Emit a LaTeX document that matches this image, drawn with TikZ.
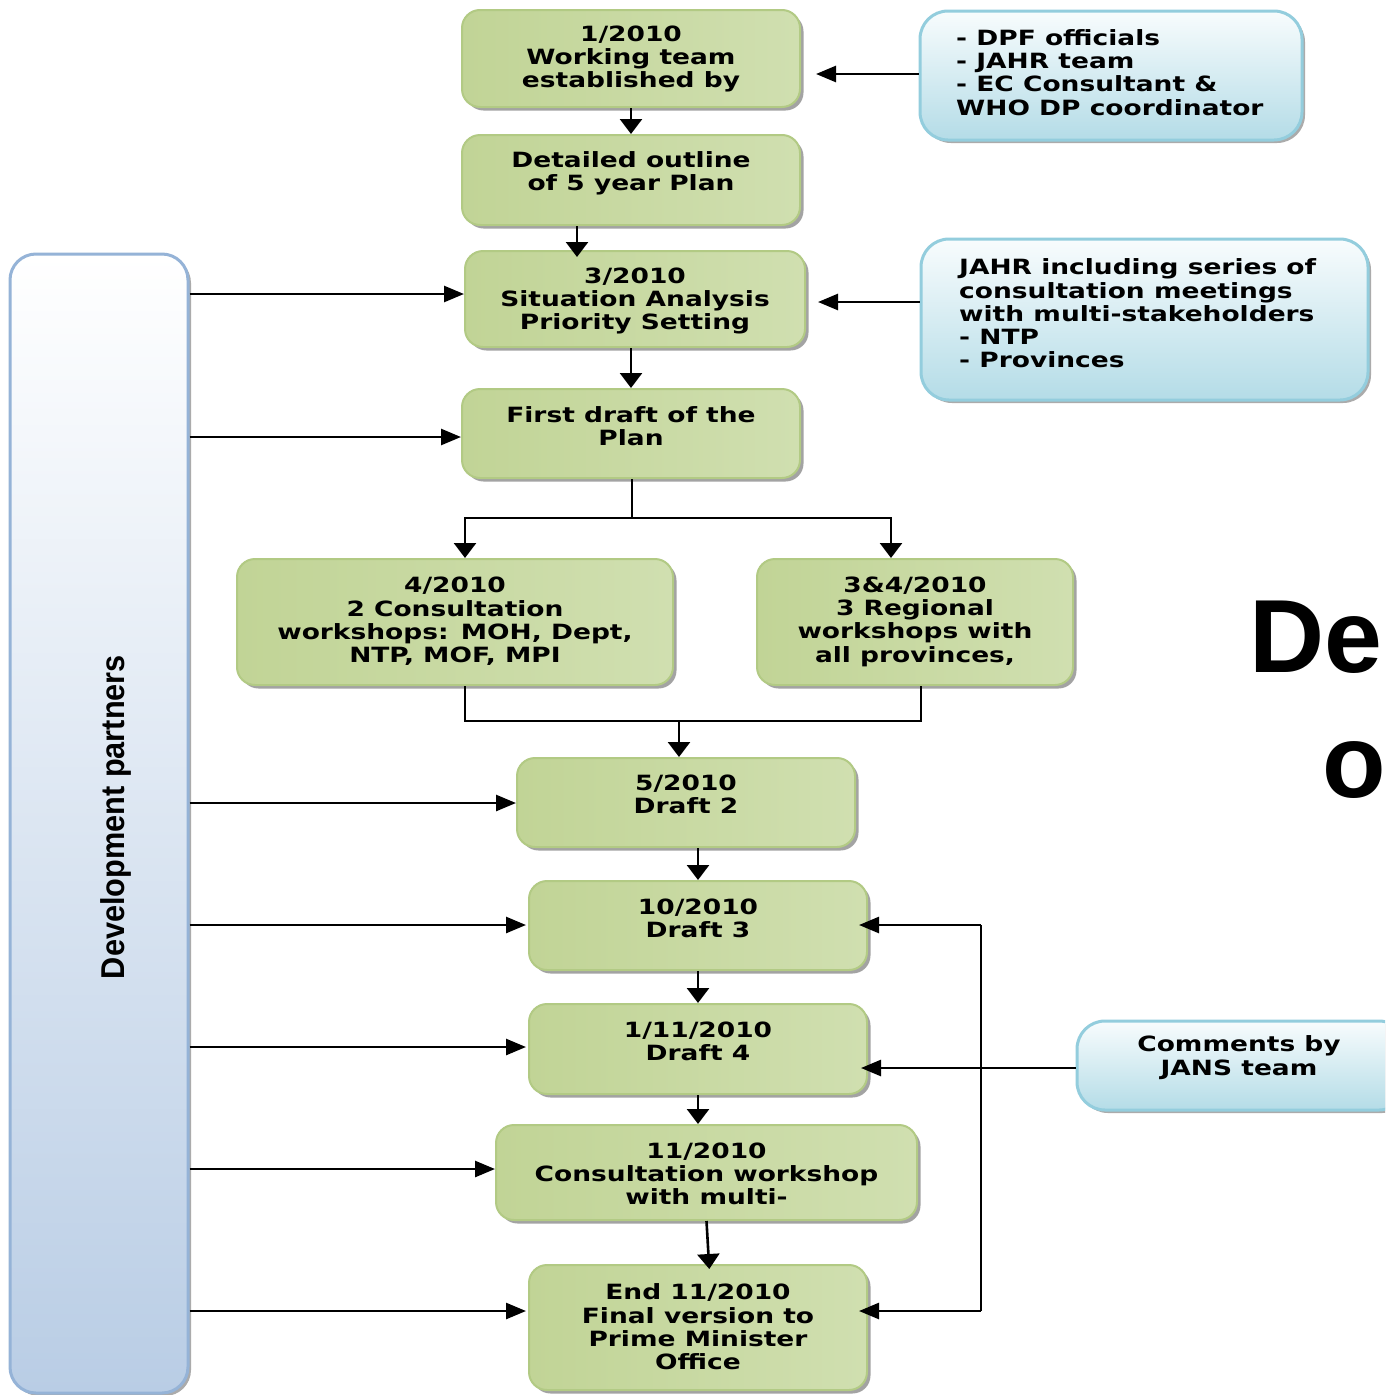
\documentclass[tikz,border=0pt]{standalone}
\usepackage{fontspec}
\usetikzlibrary{arrows.meta,shadows}
\newfontfamily\vbf{DejaVu Sans Bold}[FakeStretch=1.26]
\newfontfamily\abf{Liberation Sans Bold}
\definecolor{gD}{RGB}{193,212,150}
\definecolor{gM}{RGB}{234,241,220}
\definecolor{gR}{RGB}{208,223,176}
\definecolor{gB}{RGB}{178,202,132}
\definecolor{bT}{RGB}{248,252,253}
\definecolor{bB}{RGB}{180,220,231}
\definecolor{bE}{RGB}{147,205,221}
\definecolor{lT}{RGB}{255,255,255}
\definecolor{lB}{RGB}{185,205,229}
\definecolor{lE}{RGB}{149,179,215}
\tikzset{
  gbox/.style={draw=gB, line width=2pt, rounded corners=18pt,
    left color=gD, middle color=gM, right color=gR,
    drop shadow={shadow xshift=3.5pt, shadow yshift=-3.5pt, fill=black!60, opacity=.6}},
  sbox/.style={draw=bE, line width=3pt, rounded corners=28pt,
    top color=bT, bottom color=bB,
    drop shadow={shadow xshift=3pt, shadow yshift=-3pt, fill=black!60, opacity=.55}},
  lbar/.style={draw=lE, line width=3pt, rounded corners=26pt,
    top color=lT, bottom color=lB,
    drop shadow={shadow xshift=3pt, shadow yshift=-3pt, fill=black!60, opacity=.55}},
  txt/.style={font=\vbf\fontsize{21}{23.3}\selectfont, align=center, inner sep=0pt},
  ltxt/.style={font=\vbf\fontsize{21}{23.3}\selectfont, align=left, inner sep=0pt},
  conn/.style={line width=2.6pt, black},
  harr/.style={conn, -{Triangle[length=20pt,width=16pt]}},
  varr/.style={conn, -{Triangle[length=15pt,width=22pt]}},
}
\begin{document}
\begin{tikzpicture}[x=1pt,y=-1pt]
\useasboundingbox (0,0) rectangle (1385,1395);
\clip (0,0) rectangle (1385,1395);
\fill[white] (0,0) rectangle (1385,1395);

% left bar
\node[lbar, minimum width=178pt, minimum height=1139pt] (lb) at (99,823.5) {};
\node[font=\abf\fontsize{33}{33}\selectfont, rotate=90, inner sep=0pt] (lbt) at (116,817) {\scalebox{0.93}[1]{Development partners}};

% green boxes
\node[gbox, minimum width=338pt, minimum height=97pt] (b1) at (631,58.5) {};
\node[gbox, minimum width=338pt, minimum height=90pt] (b2) at (631,180) {};
\node[gbox, minimum width=340pt, minimum height=96pt] (b3) at (635,299) {};
\node[gbox, minimum width=338pt, minimum height=89pt] (b4) at (631,433.5) {};
\node[gbox, minimum width=436pt, minimum height=126pt] (b5) at (455,622) {};
\node[gbox, minimum width=316pt, minimum height=126pt] (b6) at (915,622) {};
\node[gbox, minimum width=338pt, minimum height=89pt] (b7) at (686,802.5) {};
\node[gbox, minimum width=338pt, minimum height=89pt] (b8) at (698,925.5) {};
\node[gbox, minimum width=338pt, minimum height=90pt] (b9) at (698,1049) {};
\node[gbox, minimum width=421pt, minimum height=95pt] (b10) at (706.5,1172.5) {};
\node[gbox, minimum width=338pt, minimum height=125pt] (b11) at (698,1327.5) {};

\node[txt] (b1t) at (631,59) {1/2010\\Working team\\established by};
\node[txt] (b2t) at (631,173) {Detailed outline\\of 5 year Plan};
\node[txt] (b3t) at (635,301) {3/2010\\Situation Analysis\\Priority Setting};
\node[txt] (b4t) at (631,426.5) {First draft of the\\Plan};
\node[txt] (b5t) at (455,621.5) {4/2010\\2 Consultation\\workshops: MOH, Dept,\\NTP, MOF, MPI};
\node[txt] (b6t) at (915,621.5) {3\&4/2010\\3 Regional\\workshops with\\all provinces,};
\node[txt] (b7t) at (686,794.5) {5/2010\\Draft 2};
\node[txt] (b8t) at (698,918.5) {10/2010\\Draft 3};
\node[txt] (b9t) at (698,1041.5) {1/11/2010\\Draft 4};
\node[txt] (b10t) at (706.5,1174) {11/2010\\Consultation workshop\\with multi-};
\node[txt] (b11t) at (698,1327) {End 11/2010\\Final version to\\Prime Minister\\Office};

% blue boxes
\node[sbox, minimum width=382pt, minimum height=129pt] (s1) at (1111,75.5) {};
\node[sbox, minimum width=447pt, minimum height=161pt] (s2) at (1144.5,319.5) {};
\node[sbox, minimum width=330pt, minimum height=89pt] (s3) at (1242,1065.5) {};
\node[ltxt, anchor=west] (s1t) at (956,72.5) {- DPF officials\\- JAHR team\\- EC Consultant \&\\WHO DP coordinator};
\node[ltxt, anchor=west] (s2t) at (959,313.5) {JAHR including series of\\consultation meetings\\with multi-stakeholders\\- NTP\\- Provinces};
\node[txt] (s3t) at (1239,1057.5) {Comments by\\JANS team};

% title fragments
\node[font=\abf\fontsize{104}{104}\selectfont, anchor=base west, inner sep=0pt] (tt1) at (1249,672) {De};
\node[font=\abf\fontsize{104}{104}\selectfont, anchor=base west, inner sep=0pt] (tt2) at (1322,797) {o};

% connectors
\draw[harr, shorten >=15pt] ([yshift=1.5pt]s1.west) -- ([yshift=1.5pt]s1.west -| b1.east);
\draw[varr] (b1.south) -- (b2.north);
\draw[varr, shorten >=-7pt] ([xshift=-54pt]b2.south) -- ([xshift=-54pt]b2.south |- b3.north);
\draw[harr, shorten >=12pt] ([yshift=17.5pt]s2.west) -- ([yshift=17.5pt]s2.west -| b3.east);
\draw[varr] (b3.south -| b4.north) -- (b4.north);
\draw[harr] (lb.east |- 0,294) -- (b3.west |- 0,294);
\draw[harr] (lb.east |- 0,437) -- (b4.west |- 0,437);

\coordinate (sp) at (632,518);
\draw[conn] (b4.south -| sp) -- (sp);
\draw[varr] (sp) -| ([xshift=10pt]b5.north);
\draw[varr] (sp) -| ([xshift=-24pt]b6.north);

\coordinate (mg) at (679,721);
\draw[conn] ([xshift=10pt]b5.south) |- ([xshift=6pt]b6.south |- mg) -- ([xshift=6pt]b6.south);
\draw[varr] (mg) -- (mg |- b7.north);

\draw[varr] (b7.south -| b8.north) -- (b8.north);
\draw[varr] (b8.south) -- (b9.north);
\draw[varr] (b9.south) -- (b9.south |- b10.north);
\draw[varr, shorten >=-5pt] (b10.south) -- ([xshift=11pt]b11.north);

\draw[harr] (lb.east |- 0,803) -- (b7.west |- 0,803);
\draw[harr, shorten >=2pt] (lb.east |- 0,925) -- (b8.west |- 0,925);
\draw[harr, shorten >=2pt] (lb.east |- 0,1047) -- (b9.west |- 0,1047);
\draw[harr] (lb.east |- 0,1169) -- (b10.west |- 0,1169);
\draw[harr, shorten >=2pt] (lb.east |- 0,1311) -- (b11.west |- 0,1311);

\coordinate (rt) at (981,925);
\coordinate (rb) at (981,1311);
\draw[conn] (rt) -- (rb);
\draw[harr, shorten >=-9pt] (rt) -- (rt -| b8.east);
\draw[harr, shorten >=-9pt] (rb) -- (rb -| b11.east);
\draw[harr, shorten >=-7pt] (s3.west |- 0,1068) -- (b9.east |- 0,1068);
\end{tikzpicture}
\end{document}
